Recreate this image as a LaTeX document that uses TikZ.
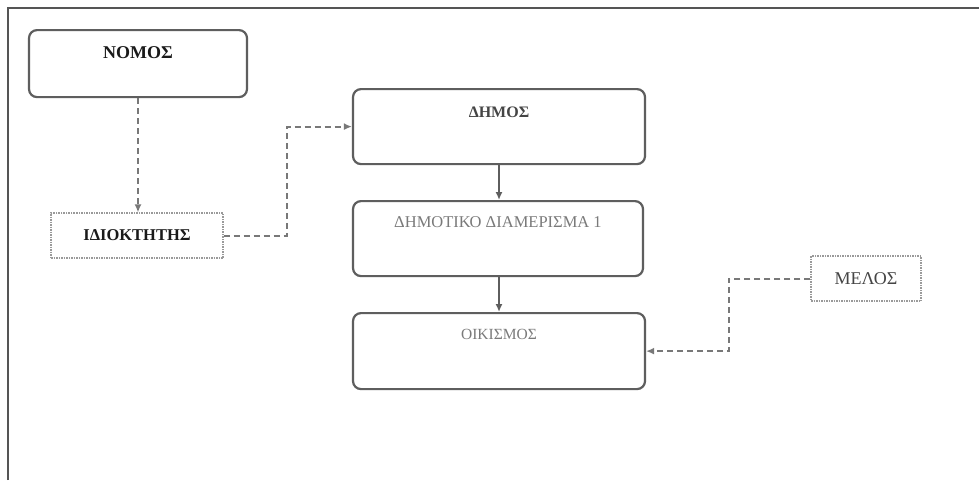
\documentclass[tikz,border=0pt]{standalone}
\usepackage{fontspec}
\setmainfont{Liberation Serif}
\usetikzlibrary{arrows.meta}
\definecolor{frameC}{HTML}{555555}
\definecolor{boxC}{HTML}{5E5E5E}
\definecolor{dashC}{HTML}{787878}
\definecolor{dotC}{HTML}{9A9A9A}
\definecolor{txtA}{HTML}{1A1A1A}
\definecolor{txtB}{HTML}{454545}
\definecolor{txtC}{HTML}{7A7A7A}
\tikzset{
  rbox/.style={draw=boxC, line width=2.2pt, rounded corners=8pt, anchor=north, inner xsep=0pt, align=center},
  dotbox/.style={draw=dotC, line width=1.2pt, dash pattern=on 1.5pt off 1pt, inner sep=0pt},
  dashlink/.style={draw=dashC, line width=2pt, dash pattern=on 6pt off 4pt, -{Latex[length=8pt,width=7pt]}},
  solidlink/.style={draw=boxC, line width=1.6pt, -{Latex[length=8pt,width=7pt]}},
}
\begin{document}
\begin{tikzpicture}[x=1pt,y=-1pt]
\useasboundingbox (0,0) rectangle (979,480);
\fill[white] (0,0) rectangle (979,480);
% outer frame (partial)
\draw[frameC, line width=2pt] (8,480) -- (8,8) -- (979,8);

% boxes
\node[rbox, minimum width=218pt, inner ysep=16pt, text height=12pt, text depth=23pt,
      font=\fontsize{18}{20}\selectfont\bfseries, text=txtA] (nomos) at (138,29) {ΝΟΜΟΣ};
\node[dotbox, minimum width=172pt, minimum height=45pt,
      font=\fontsize{16.5}{19}\selectfont\bfseries, text=txtA] (idio) at (137,235.5) {ΙΔΙΟΚΤΗΤΗΣ};
\node[rbox, minimum width=292pt, inner ysep=17pt, text height=11pt, text depth=30pt,
      font=\fontsize{16}{18}\selectfont\bfseries, text=txtB] (dimos) at (499,88) {ΔΗΜΟΣ};
\node[rbox, minimum width=290pt, inner ysep=15pt, text height=11pt, text depth=34pt,
      font=\fontsize{16.5}{19}\selectfont, text=txtC] (dimt) at (498,200) {ΔΗΜΟΤΙΚΟ ΔΙΑΜΕΡΙΣΜΑ 1};
\node[rbox, minimum width=292pt, inner ysep=15pt, text height=11pt, text depth=35pt,
      font=\fontsize{15.5}{18}\selectfont, text=txtC] (oik) at (499,312) {ΟΙΚΙΣΜΟΣ};
\node[dotbox, minimum width=110pt, minimum height=45pt,
      font=\fontsize{18}{20}\selectfont, text=txtB] (melos) at (866,278.5) {ΜΕΛΟΣ};

% bend x-positions
\coordinate (c1) at (287,0);
\coordinate (c2) at (729,0);

% connectors
\draw[dashlink] (nomos.south) -- (nomos.south |- idio.north);
\draw[dashlink] (idio.east) -| (c1 |- dimos.west) -- (dimos.west);
\draw[solidlink] (dimos.south) -- (dimt.north -| dimos.south);
\draw[solidlink] (dimt.south -| dimos.south) -- (oik.north);
\draw[dashlink] (melos.west) -| (c2 |- oik.east) -- (oik.east);
\end{tikzpicture}
\end{document}
